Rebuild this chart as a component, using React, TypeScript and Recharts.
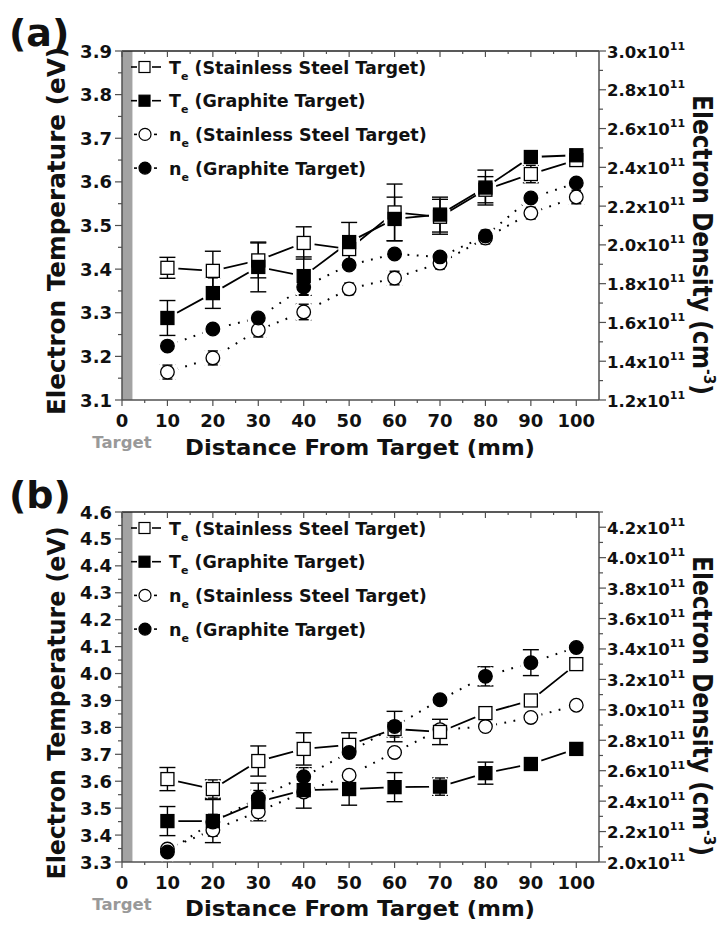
import React from 'react'
import {
  ComposedChart,
  Line,
  XAxis,
  YAxis,
  ErrorBar,
  ReferenceArea,
  Legend,
} from 'recharts'

const FONT = '"DejaVu Sans", "Liberation Sans", sans-serif'
const AXIS_COLOR = '#505050'

// distance from the target, mm
const distance = [10, 20, 30, 40, 50, 60, 70, 80, 90, 100]

// (a) electron temperature, eV
const teSteelA = [3.403, 3.396, 3.42, 3.46, 3.446, 3.53, 3.52, 3.582, 3.618, 3.65]
const teSteelErrA = [0.024, 0.045, 0.04, 0.037, 0.03, 0.065, 0.04, 0.03, 0.02, 0.01]
const teGraphiteA = [3.288, 3.345, 3.405, 3.384, 3.462, 3.515, 3.525, 3.587, 3.657, 3.661]
const teGraphiteErrA = [0.04, 0.035, 0.057, 0.044, 0.045, 0.05, 0.04, 0.04, 0.01, 0.01]
// (a) electron density, 1e11 cm^-3
const neSteelA = [1.344, 1.417, 1.561, 1.654, 1.773, 1.829, 1.906, 2.035, 2.164, 2.247]
const neSteelErrA = [0.036, 0.036, 0.036, 0.04, 0.03, 0.035, 0.03, 0.03, 0.03, 0.035]
const neGraphiteA = [1.478, 1.566, 1.623, 1.783, 1.896, 1.953, 1.938, 2.046, 2.242, 2.319]
const neGraphiteErrA = [0.02, 0.02, 0.02, 0.04, 0.02, 0.02, 0.02, 0.03, 0.02, 0.02]

// (b) electron temperature, eV
const teSteelB = [3.608, 3.571, 3.675, 3.72, 3.735, 3.794, 3.783, 3.853, 3.9, 4.035]
const teSteelErrB = [0.043, 0.034, 0.056, 0.06, 0.045, 0.03, 0.047, 0.01, 0.01, 0.015]
const teGraphiteB = [3.452, 3.452, 3.523, 3.567, 3.571, 3.578, 3.58, 3.63, 3.664, 3.72]
const teGraphiteErrB = [0.054, 0.08, 0.07, 0.067, 0.06, 0.054, 0.032, 0.041, 0.02, 0.01]
// (b) electron density, 1e11 cm^-3
const neSteelB = [2.085, 2.21, 2.33, 2.46, 2.57, 2.72, 2.87, 2.89, 2.95, 3.03]
const neSteelErrB = [0.02, 0.04, 0.03, 0.03, 0.03, 0.03, 0.03, 0.03, 0.03, 0.02]
const neGraphiteB = [2.066, 2.263, 2.42, 2.56, 2.72, 2.89, 3.066, 3.22, 3.31, 3.41]
const neGraphiteErrB = [0.03, 0.05, 0.05, 0.06, 0.03, 0.1, 0.02, 0.063, 0.085, 0.02]

const distTicks = [0, 5, 10, 15, 20, 25, 30, 35, 40, 45, 50, 55, 60, 65, 70, 75, 80, 85, 90, 95, 100]
const tempTicksA = [3.1, 3.15, 3.2, 3.25, 3.3, 3.35, 3.4, 3.45, 3.5, 3.55, 3.6, 3.65, 3.7, 3.75, 3.8, 3.85, 3.9]
const densTicksA = [1.2, 1.3, 1.4, 1.5, 1.6, 1.7, 1.8, 1.9, 2.0, 2.1, 2.2, 2.3, 2.4, 2.5, 2.6, 2.7, 2.8, 2.9, 3.0]
const tempTicksB = [
  3.3, 3.35, 3.4, 3.45, 3.5, 3.55, 3.6, 3.65, 3.7, 3.75, 3.8, 3.85, 3.9, 3.95,
  4.0, 4.05, 4.1, 4.15, 4.2, 4.25, 4.3, 4.35, 4.4, 4.45, 4.5, 4.55, 4.6,
]
const densTicksB = [
  2.0, 2.1, 2.2, 2.3, 2.4, 2.5, 2.6, 2.7, 2.8, 2.9, 3.0, 3.1,
  3.2, 3.3, 3.4, 3.5, 3.6, 3.7, 3.8, 3.9, 4.0, 4.1, 4.2, 4.3,
]

const legendRows = [
  { sym: 'T', text: '(Stainless Steel Target)', marker: 'square', filled: false },
  { sym: 'T', text: '(Graphite Target)', marker: 'square', filled: true },
  { sym: 'n', text: '(Stainless Steel Target)', marker: 'circle', filled: false },
  { sym: 'n', text: '(Graphite Target)', marker: 'circle', filled: true },
]

const makeRows = (
  teS: number[], teSE: number[], teG: number[], teGE: number[],
  neS: number[], neSE: number[], neG: number[], neGE: number[],
) =>
  distance.map((d, i) => ({
    d,
    teSteel: teS[i], teSteelErr: teSE[i],
    teGraphite: teG[i], teGraphiteErr: teGE[i],
    neSteel: neS[i], neSteelErr: neSE[i],
    neGraphite: neG[i], neGraphiteErr: neGE[i],
  }))

const rowsA = makeRows(teSteelA, teSteelErrA, teGraphiteA, teGraphiteErrA, neSteelA, neSteelErrA, neGraphiteA, neGraphiteErrA)
const rowsB = makeRows(teSteelB, teSteelErrB, teGraphiteB, teGraphiteErrB, neSteelB, neSteelErrB, neGraphiteB, neGraphiteErrB)

// series: key, axis, marker shape, filled, dotted connector
const seriesList = [
  { key: 'neSteel', axis: 'right', shape: 'circle', filled: false, dotted: true },
  { key: 'teSteel', axis: 'left', shape: 'square', filled: false, dotted: false },
  { key: 'teGraphite', axis: 'left', shape: 'square', filled: true, dotted: false },
  { key: 'neGraphite', axis: 'right', shape: 'circle', filled: true, dotted: true },
]

const onStep = (v: number, step: number) => Math.abs(v / step - Math.round(v / step)) < 1e-6

const boldText = { fontFamily: FONT, fontWeight: 'bold' as const, fill: '#111' }

// --- axis ticks (tickSize 0, so x/y arrive on the axis line) ---
const leftTick = (p: any) => {
  const { x, y, payload } = p
  const major = onStep(payload.value, 0.1)
  return (
    <g>
      <line x1={x - (major ? 7 : 4)} x2={x} y1={y} y2={y} stroke={AXIS_COLOR} strokeWidth={1.2} />
      {major && (
        <text x={x - 10} y={y + 6.5} textAnchor="end" fontSize={18} {...boldText}>
          {payload.value.toFixed(1)}
        </text>
      )}
    </g>
  )
}

const rightTick = (p: any) => {
  const { x, y, payload } = p
  const major = onStep(payload.value, 0.2)
  return (
    <g>
      <line x1={x} x2={x + (major ? 7 : 4)} y1={y} y2={y} stroke={AXIS_COLOR} strokeWidth={1.2} />
      {major && (
        <text x={x + 8} y={y + 6.5} textAnchor="start" fontSize={16.5} {...boldText}>
          {payload.value.toFixed(1)}x10
          <tspan dy={-8} fontSize={11}>11</tspan>
        </text>
      )}
    </g>
  )
}

const bottomTick = (p: any) => {
  const { x, y, payload } = p
  const v = payload.value
  const major = onStep(v, 10)
  return (
    <g>
      <line x1={x} x2={x} y1={y} y2={y + (major ? 6 : 3)} stroke={AXIS_COLOR} strokeWidth={1.2} />
      {major && (
        <text x={x} y={y + 27} textAnchor="middle" fontSize={18} {...boldText}>
          {v}
        </text>
      )}
      {v === 0 && (
        <text x={x} y={y + 48} textAnchor="middle" fontSize={16.5} fontFamily={FONT} fontWeight="bold" fill="#999">
          Target
        </text>
      )}
    </g>
  )
}

const topTick = (p: any) => {
  const { x, y, payload } = p
  const major = onStep(payload.value, 10)
  return <line x1={x} x2={x} y1={y} y2={y + (major ? 6 : 3)} stroke={AXIS_COLOR} strokeWidth={1.2} />
}

// --- point markers ---
// white side pieces of a disc under every marker, so the connectors stop short of
// the points; the middle strip stays open for the error bars
const HALO_R = 11
const HALO_STRIP = 5
const haloDot = (p: any) => {
  const { cx, cy, index } = p
  if (cx == null || cy == null) return <g key={index} />
  const h = Math.sqrt(HALO_R * HALO_R - HALO_STRIP * HALO_STRIP)
  const d =
    `M${cx - HALO_STRIP},${cy - h} A${HALO_R},${HALO_R} 0 0 0 ${cx - HALO_STRIP},${cy + h} Z ` +
    `M${cx + HALO_STRIP},${cy - h} A${HALO_R},${HALO_R} 0 0 1 ${cx + HALO_STRIP},${cy + h} Z`
  return <path key={index} d={d} fill="#fff" stroke="none" />
}

const markerDot = (shape: string, filled: boolean) => (p: any) => {
  const { cx, cy, index } = p
  if (cx == null || cy == null) return <g key={index} />
  const fill = filled ? '#000' : '#fff'
  if (shape === 'square') {
    return <rect key={index} x={cx - 6.5} y={cy - 6.5} width={13} height={13} fill={fill} stroke="#000" strokeWidth={1.3} />
  }
  return <circle key={index} cx={cx} cy={cy} r={6.8} fill={fill} stroke="#000" strokeWidth={1.3} />
}

const LegendBox = () => (
  <svg width={330} height={140} style={{ display: 'block' }}>
    {legendRows.map((r, i) => {
      const cy = 16 + i * 33.7
      const dotted = r.marker === 'circle'
      return (
        <g key={i}>
          {dotted ? (
            <>
              <line x1={8} x2={11} y1={cy} y2={cy} stroke="#000" strokeWidth={1.6} />
              <line x1={28} x2={31} y1={cy} y2={cy} stroke="#000" strokeWidth={1.6} />
            </>
          ) : (
            <>
              <line x1={5} x2={11} y1={cy} y2={cy} stroke="#000" strokeWidth={1.6} />
              <line x1={26} x2={35} y1={cy} y2={cy} stroke="#000" strokeWidth={1.6} />
            </>
          )}
          {r.marker === 'square' ? (
            <rect x={13} y={cy - 5.5} width={11} height={11} fill={r.filled ? '#000' : '#fff'} stroke="#000" strokeWidth={1.2} />
          ) : (
            <circle cx={19} cy={cy} r={6} fill={r.filled ? '#000' : '#fff'} stroke="#000" strokeWidth={1.2} />
          )}
          <text x={43} y={cy + 6.5} fontSize={17.5} {...boldText}>
            {r.sym}
            <tspan dy={6} fontSize={11}>e</tspan>
            <tspan dy={-6}> {r.text}</tspan>
          </text>
        </g>
      )
    })}
  </svg>
)

type PanelProps = {
  tag: string
  tagBaseline: number
  rows: ReturnType<typeof makeRows>
  tempDomain: [number, number]
  tempTicks: number[]
  densDomain: [number, number]
  densTicks: number[]
  plotTop: number
  xHeight: number
  tempLabelLength: number
  tempLabelCenter: number
}

function Panel(props: PanelProps) {
  const {
    tag, tagBaseline, rows, tempDomain, tempTicks, densDomain, densTicks,
    plotTop, xHeight, tempLabelLength, tempLabelCenter,
  } = props
  const W = 724
  const H = 464

  const tempTitle = () => (
    <text transform={`translate(65, ${tempLabelCenter}) rotate(-90)`} textAnchor="middle"
      fontSize={24} textLength={tempLabelLength} lengthAdjust="spacingAndGlyphs" {...boldText}>
      Electron Temperature (eV)
    </text>
  )

  const densTitle = () => (
    <text transform={`translate(693, ${plotTop + 194}) rotate(90)`} textAnchor="middle"
      fontSize={27} textLength={300} lengthAdjust="spacingAndGlyphs" {...boldText}>
      Electron Density (cm
      <tspan dy={-11} fontSize={16}>-3</tspan>
      <tspan dy={11}>)</tspan>
    </text>
  )

  const distTitle = () => (
    <text x={360} y={plotTop + 349 + 55} textAnchor="middle" fontSize={22}
      textLength={350} lengthAdjust="spacingAndGlyphs" {...boldText}>
      Distance From Target (mm)
    </text>
  )

  return (
    <div style={{ position: 'relative', width: W, height: H }}>
      <ComposedChart
        width={W}
        height={H}
        data={rows}
        margin={{ top: plotTop - 1, right: 0, bottom: 0, left: 0 }}
        style={{ fontFamily: FONT }}
      >
        <XAxis
          dataKey="d" type="number" domain={[0, 105]} ticks={distTicks} interval={0}
          tickSize={0} tickMargin={0} tickLine={false} tick={bottomTick} height={xHeight}
          axisLine={{ stroke: AXIS_COLOR, strokeWidth: 1.5 }} label={distTitle}
        />
        <XAxis
          xAxisId="top" orientation="top" dataKey="d" type="number" domain={[0, 105]}
          ticks={distTicks} interval={0} tickSize={0} tickMargin={0} tickLine={false}
          tick={topTick} height={1} axisLine={{ stroke: '#222', strokeWidth: 1.5 }}
        />
        <YAxis
          yAxisId="left" type="number" domain={tempDomain} ticks={tempTicks} interval={0}
          allowDataOverflow tickSize={0} tickMargin={0} tickLine={false} tick={leftTick} width={122}
          axisLine={{ stroke: AXIS_COLOR, strokeWidth: 1.5 }} label={tempTitle}
        />
        <YAxis
          yAxisId="right" orientation="right" type="number" domain={densDomain} ticks={densTicks}
          interval={0} allowDataOverflow tickSize={0} tickMargin={0} tickLine={false} tick={rightTick}
          width={125} axisLine={{ stroke: AXIS_COLOR, strokeWidth: 1.5 }} label={densTitle}
        />

        {/* target surface */}
        <ReferenceArea x1={0} x2={2.3} yAxisId="left" fill="#a3a3a3" fillOpacity={1} stroke="none" ifOverflow="visible" />

        {/* connectors */}
        {seriesList.map((s) => (
          <Line key={`c-${s.key}`} yAxisId={s.axis} dataKey={s.key} type="linear" stroke="#000"
            strokeWidth={s.dotted ? 2 : 1.8} strokeDasharray={s.dotted ? '1.8 7.5' : undefined}
            dot={false} activeDot={false} isAnimationActive={false} legendType="none" />
        ))}
        {/* gaps around the points */}
        {seriesList.map((s) => (
          <Line key={`h-${s.key}`} yAxisId={s.axis} dataKey={s.key} type="linear" stroke="none"
            dot={haloDot} activeDot={false} isAnimationActive={false} legendType="none" />
        ))}
        {/* points with error bars */}
        {seriesList.map((s) => (
          <Line key={`m-${s.key}`} yAxisId={s.axis} dataKey={s.key} type="linear" stroke="none"
            dot={markerDot(s.shape, s.filled)} activeDot={false} isAnimationActive={false} legendType="none">
            <ErrorBar dataKey={`${s.key}Err`} width={8} stroke="#000" strokeWidth={1.4} direction="y" />
          </Line>
        ))}

        <Legend
          layout="vertical" align="center" verticalAlign="middle"
          content={() => <LegendBox />}
          wrapperStyle={{ position: 'absolute', left: 126, top: plotTop, width: 330, height: 140 }}
        />
      </ComposedChart>
      <svg width={80} height={60} style={{ position: 'absolute', left: 0, top: 0 }}>
        <text x={9} y={tagBaseline} fontSize={38} {...boldText}>{tag}</text>
      </svg>
    </div>
  )
}

export default function App() {
  return (
    <div style={{ position: 'absolute', left: 0, top: 0, width: 724, height: 928, background: '#fff' }}>
      <Panel
        tag="(a)" tagBaseline={46} rows={rowsA}
        tempDomain={[3.1, 3.9]} tempTicks={tempTicksA}
        densDomain={[1.2, 3.0]} densTicks={densTicksA}
        plotTop={51} xHeight={64}
        tempLabelLength={368} tempLabelCenter={231}
      />
      <Panel
        tag="(b)" tagBaseline={44} rows={rowsB}
        tempDomain={[3.3, 4.6]} tempTicks={tempTicksB}
        densDomain={[2.0, 4.3]} densTicks={densTicksB}
        plotTop={48} xHeight={66}
        tempLabelLength={353} tempLabelCenter={239}
      />
    </div>
  )
}
